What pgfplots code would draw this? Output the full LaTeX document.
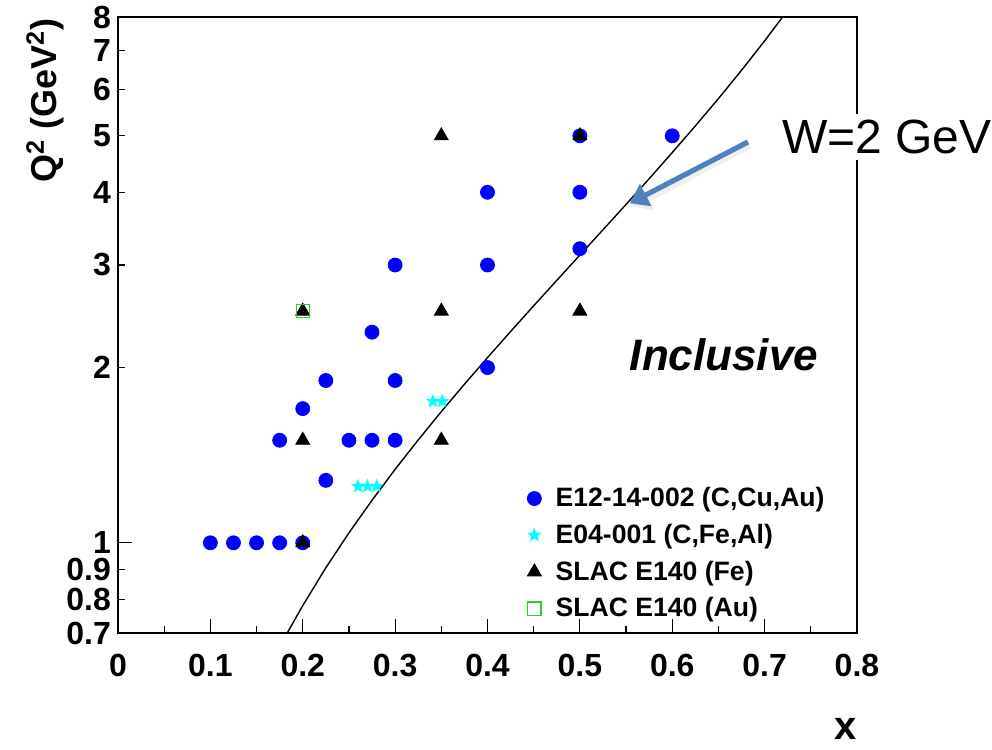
\documentclass[border=0pt]{standalone}
\usepackage{pgfplots}
\pgfplotsset{compat=1.18}
\usepackage{fontspec}
\setmainfont{Liberation Sans}
\usetikzlibrary{arrows.meta}
\definecolor{arrowblue}{RGB}{79,129,189}
\definecolor{sqgreen}{RGB}{40,210,40}
\definecolor{starcyan}{RGB}{0,255,255}
\definecolor{dotblue}{RGB}{0,0,255}

% filled five-pointed star
\pgfdeclareplotmark{fstar}{%
  \pgfpathmoveto{\pgfpointpolar{90}{\pgfplotmarksize}}%
  \pgfpathlineto{\pgfpointpolar{126}{0.42\pgfplotmarksize}}%
  \pgfpathlineto{\pgfpointpolar{162}{\pgfplotmarksize}}%
  \pgfpathlineto{\pgfpointpolar{198}{0.42\pgfplotmarksize}}%
  \pgfpathlineto{\pgfpointpolar{234}{\pgfplotmarksize}}%
  \pgfpathlineto{\pgfpointpolar{270}{0.42\pgfplotmarksize}}%
  \pgfpathlineto{\pgfpointpolar{306}{\pgfplotmarksize}}%
  \pgfpathlineto{\pgfpointpolar{342}{0.42\pgfplotmarksize}}%
  \pgfpathlineto{\pgfpointpolar{18}{\pgfplotmarksize}}%
  \pgfpathlineto{\pgfpointpolar{54}{0.42\pgfplotmarksize}}%
  \pgfpathclose
  \pgfusepathqfill}

\begin{document}
\begin{tikzpicture}
\begin{axis}[
  at={(0,0)}, anchor=south west,
  scale only axis, width=369.5pt, height=308pt,
  xmin=0, xmax=0.8,
  ymode=log, ymin=0.7, ymax=8,
  axis line style={line width=1pt},
  tick style={line width=0.6pt, black},
  tick align=inside,
  xtick pos=lower, ytick pos=left,
  major tick length=7pt, minor tick length=3.5pt,
  xtick={0,0.1,0.2,0.3,0.4,0.5,0.6,0.7,0.8},
  xticklabels={0,0.1,0.2,0.3,0.4,0.5,0.6,0.7,0.8},
  minor x tick num=1,
  ytick={1},
  yticklabels={1},
  extra y ticks={0.7,0.8,0.9,2,3,4,5,6,7,8},
  extra y tick labels={0.7,0.8,0.9,2,3,4,5,6,7,8},
  extra y tick style={major tick length=3.5pt},
  minor y tick num=0,
  ticklabel style={font=\bfseries\fontsize{16}{16}\selectfont},
  xticklabel style={yshift=-7pt},
  clip=false,
  legend style={draw=none, fill=none, at={(rel axis cs:0.545,0.250)}, anchor=north west,
    font=\bfseries\fontsize{13.3}{15}\selectfont, row sep=3.2pt, column sep=5pt},
  legend cell align=left,
]
% W = 2 GeV line
\addplot[black, line width=0.7pt, forget plot] coordinates {
  (0.183,0.699) (0.2,0.78) (0.225,0.906) (0.25,1.04) (0.275,1.183) (0.3,1.337)
  (0.325,1.502) (0.35,1.68) (0.375,1.872) (0.4,2.08) (0.425,2.306) (0.45,2.553)
  (0.475,2.823) (0.5,3.12) (0.525,3.448) (0.55,3.813) (0.575,4.22) (0.6,4.68)
  (0.625,5.2) (0.65,5.794) (0.675,6.48) (0.7,7.28) (0.719,7.983)};

\addplot[only marks, mark=*, mark size=3.5pt, color=dotblue] coordinates {
  (0.1,1) (0.125,1) (0.15,1) (0.175,1) (0.2,1)
  (0.175,1.5) (0.25,1.5) (0.275,1.5) (0.3,1.5)
  (0.2,1.7) (0.225,1.9) (0.3,1.9) (0.225,1.28)
  (0.275,2.3) (0.3,3) (0.4,2) (0.4,3) (0.4,4)
  (0.5,3.2) (0.5,4) (0.5,5) (0.6,5)};
\addlegendentry{E12-14-002 (C,Cu,Au)}

\addplot[only marks, mark=fstar, mark size=3.8pt, color=starcyan] coordinates {
  (0.26,1.25) (0.27,1.25) (0.28,1.25) (0.341,1.75) (0.351,1.75)};
\addlegendentry{E04-001 (C,Fe,Al)}

\addplot[only marks, mark=triangle*, mark size=4pt, color=black] coordinates {
  (0.2,1) (0.2,1.5) (0.2,2.5) (0.35,1.5) (0.35,2.5) (0.35,5) (0.5,2.5) (0.5,5)};
\addlegendentry{SLAC E140 (Fe)}

\addplot[only marks, mark=square, mark size=3.3pt, color=sqgreen, mark options={line width=0.6pt}] coordinates {
  (0.2,2.5)};
\addlegendentry{SLAC E140 (Au)}

% annotations
\draw[line width=4pt, gray!25, opacity=0.5, -{Triangle[length=9pt,width=13pt]}]
  (axis cs:0.683,4.82) -- (axis cs:0.556,3.78);
\draw[line width=2.6pt, arrowblue, -{Triangle[length=9pt,width=12pt]}]
  (axis cs:0.682,4.88) -- (axis cs:0.554,3.83);
\node[font=\fontsize{24}{24}\selectfont, fill=white, anchor=west, inner sep=3pt]
  at (axis cs:0.712,4.98) {W=2 GeV};
\node[font=\bfseries\itshape\fontsize{22}{22}\selectfont] at (axis cs:0.656,2.10) {Inclusive};
\node[font=\bfseries\fontsize{18}{18}\selectfont, rotate=90]
  at ([xshift=-36.5pt]rel axis cs:0,0.865) {Q\textsuperscript{2} (GeV\textsuperscript{2})};
\node[font=\bfseries\fontsize{20}{20}\selectfont] at ([yshift=-48pt]rel axis cs:0.984,0) {x};
\end{axis}
\pgfresetboundingbox
\path[use as bounding box] (-59pt,-58.5pt) rectangle (437pt,316.5pt);
\end{tikzpicture}
\end{document}
